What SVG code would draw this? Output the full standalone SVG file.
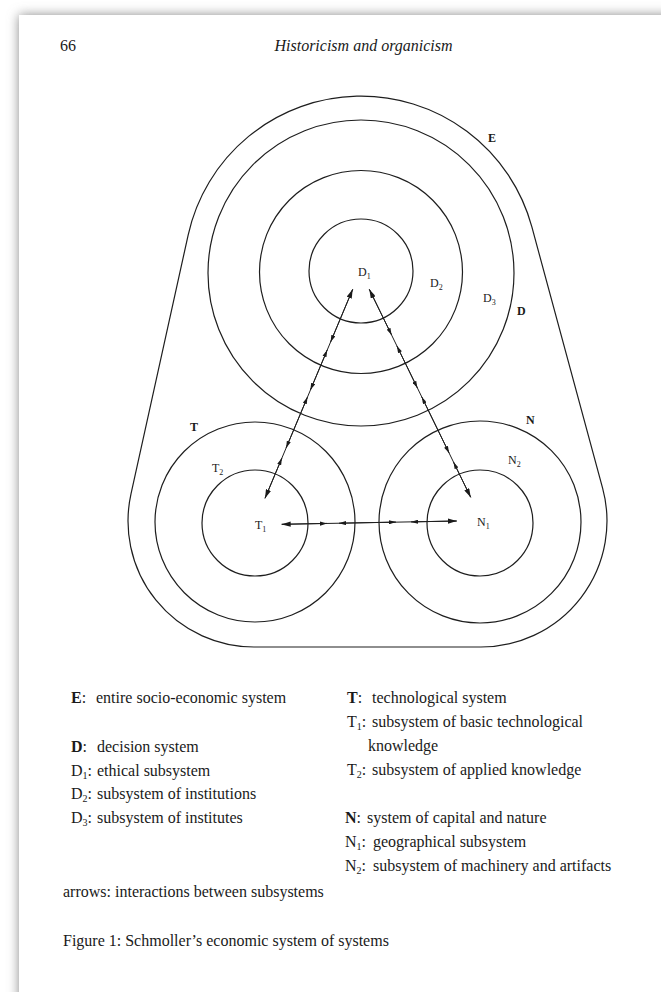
<svg xmlns="http://www.w3.org/2000/svg" width="661" height="992" viewBox="0 0 661 992">
<defs>
<filter id="sh" x="-5%" y="-5%" width="110%" height="110%"><feGaussianBlur stdDeviation="6"/></filter>
<marker id="big" viewBox="0 0 10 6" refX="10" refY="3" markerWidth="9" markerHeight="5.4" markerUnits="userSpaceOnUse" orient="auto-start-reverse"><path d="M0,0 L10,3 L0,6 z" fill="#1a1a1a"/></marker>
<marker id="sm" viewBox="0 0 10 6" refX="10" refY="3" markerWidth="7" markerHeight="4.4" markerUnits="userSpaceOnUse" orient="auto-start-reverse"><path d="M0,0 L10,3 L0,6 z" fill="#1a1a1a"/></marker>
</defs>
<style>
.ln{fill:none;stroke:#1e1e1e;stroke-width:1.2}
.ar{fill:none;stroke:#1e1e1e;stroke-width:1}
.t{font-family:"Liberation Serif","Times New Roman",serif;fill:#1a1a1a}
.lab{font-size:12px}
.b{font-weight:bold}
.sub{font-size:8px}
.ls{font-size:10px}
.leg{font-size:16px}
</style>
<rect width="661" height="992" fill="#ffffff"/>
<rect x="19" y="15" width="700" height="1020" fill="#8a8a8a" filter="url(#sh)"/>
<rect x="19" y="15" width="700" height="1020" fill="#ffffff"/>

<text class="t" x="60" y="51" font-size="16">66</text>
<text class="t" x="363.5" y="51" font-size="16" font-style="italic" text-anchor="middle">Historicism and organicism</text>

<g id="E"><path class="ln" d="M131.0,493.8 L188.2,234.8 A177,177 0 0 1 531.8,226.7 L602.6,488.1 A126,126 0 0 1 481,647 L254,647 A126,126 0 0 1 131.0,493.8 Z"/>
<text class="t lab b" x="488" y="142">E</text></g>
<g id="D"><circle class="ln" cx="361" cy="273" r="153"/><text class="t lab b" x="517" y="315">D</text></g>
<g id="D3"><text class="t lab" x="483" y="302">D<tspan class="sub" dy="3">3</tspan></text></g>
<g id="D2"><circle class="ln" cx="361" cy="272" r="101.5"/><text class="t lab" x="430" y="287">D<tspan class="sub" dy="3">2</tspan></text></g>
<g id="D1"><circle class="ln" cx="361" cy="271" r="52"/><text class="t lab" x="358" y="276">D<tspan class="sub" dy="3">1</tspan></text></g>
<g id="T"><circle class="ln" cx="255" cy="522" r="100"/><text class="t lab b" x="190" y="431">T</text></g>
<g id="T2"><text class="t lab" x="212" y="472">T<tspan class="sub" dy="3">2</tspan></text></g>
<g id="T1"><circle class="ln" cx="255" cy="523" r="53"/><text class="t lab" x="255" y="529">T<tspan class="sub" dy="3">1</tspan></text></g>
<g id="N"><circle class="ln" cx="480" cy="522" r="101"/><text class="t lab b" x="526" y="424">N</text></g>
<g id="N2"><text class="t lab" x="508" y="464">N<tspan class="sub" dy="3">2</tspan></text></g>
<g id="N1"><circle class="ln" cx="480" cy="523" r="53"/><text class="t lab" x="477" y="526">N<tspan class="sub" dy="3">1</tspan></text></g>

<g id="connectors">
<line class="ar" x1="352.7" y1="289.3" x2="265" y2="498.3"/>
<line class="ar" x1="369.3" y1="289.3" x2="470.7" y2="497.3"/>
<line class="ar" x1="281.7" y1="524.3" x2="456.7" y2="521"/>

<line class="ar" x1="352.7" y1="289.3" x2="330.6" y2="342" marker-start="url(#big)" marker-end="url(#sm)"/>
<line class="ar" x1="327.2" y1="350" x2="310.4" y2="390" marker-start="url(#sm)" marker-end="url(#sm)"/>
<line class="ar" x1="307.5" y1="397" x2="286.1" y2="448" marker-start="url(#sm)" marker-end="url(#sm)"/>
<line class="ar" x1="281.9" y1="458" x2="265" y2="498.3" marker-start="url(#sm)" marker-end="url(#big)"/>

<line class="ar" x1="369.3" y1="289.3" x2="391.6" y2="335" marker-start="url(#big)" marker-end="url(#sm)"/>
<line class="ar" x1="396.9" y1="346" x2="417.4" y2="388" marker-start="url(#sm)" marker-end="url(#sm)"/>
<line class="ar" x1="421.8" y1="397" x2="449.1" y2="453" marker-start="url(#sm)" marker-end="url(#sm)"/>
<line class="ar" x1="453.5" y1="462" x2="470.7" y2="497.3" marker-start="url(#sm)" marker-end="url(#big)"/>

<line class="ar" x1="281.7" y1="524.3" x2="327" y2="523.4" marker-start="url(#big)" marker-end="url(#sm)"/>
<line class="ar" x1="339" y1="523.2" x2="396" y2="522.1" marker-start="url(#sm)" marker-end="url(#sm)"/>
<line class="ar" x1="411" y1="521.9" x2="456.7" y2="521" marker-start="url(#sm)" marker-end="url(#big)"/>
</g>

<g id="legend" class="t leg">
<text x="71" y="703"><tspan class="b">E</tspan>:<tspan x="96">entire socio-economic system</tspan></text>
<text x="71" y="752"><tspan class="b">D</tspan>:<tspan x="97">decision system</tspan></text>
<text x="71" y="776">D<tspan class="ls" dy="3">1</tspan><tspan dy="-3">:</tspan><tspan x="97">ethical subsystem</tspan></text>
<text x="71" y="799">D<tspan class="ls" dy="3">2</tspan><tspan dy="-3">:</tspan><tspan x="97">subsystem of institutions</tspan></text>
<text x="71" y="823">D<tspan class="ls" dy="3">3</tspan><tspan dy="-3">:</tspan><tspan x="97">subsystem of institutes</tspan></text>
<text x="63" y="897">arrows: interactions between subsystems</text>

<text x="347" y="703"><tspan class="b">T</tspan>:<tspan x="372">technological system</tspan></text>
<text x="347" y="727">T<tspan class="ls" dy="3">1</tspan><tspan dy="-3">:</tspan><tspan x="372">subsystem of basic technological</tspan></text>
<text x="368" y="751">knowledge</text>
<text x="347" y="775">T<tspan class="ls" dy="3">2</tspan><tspan dy="-3">:</tspan><tspan x="372">subsystem of applied knowledge</tspan></text>
<text x="345" y="823"><tspan class="b">N</tspan>:<tspan x="367">system of capital and nature</tspan></text>
<text x="345" y="847">N<tspan class="ls" dy="3">1</tspan><tspan dy="-3">:</tspan><tspan x="373">geographical subsystem</tspan></text>
<text x="345" y="871">N<tspan class="ls" dy="3">2</tspan><tspan dy="-3">:</tspan><tspan x="373">subsystem of machinery and artifacts</tspan></text>
<text x="63" y="946">Figure 1: Schmoller’s economic system of systems</text>
</g>
</svg>
